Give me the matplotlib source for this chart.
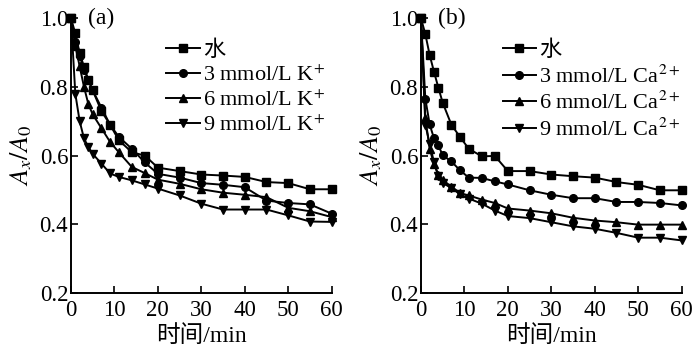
import matplotlib
matplotlib.use('Agg')
import matplotlib.pyplot as plt

plt.rcParams['font.family'] = ['Liberation Serif', 'Noto Sans CJK SC']
plt.rcParams['mathtext.fontset'] = 'stix'

# sampling times (min)
times = [0, 1, 2, 3, 4, 5, 7, 9, 11, 14, 17, 20, 25, 30, 35, 40, 45, 50, 55, 60]

# panel (a): K+
a_water = [1.0, 0.956, 0.898, 0.859, 0.82, 0.79, 0.73, 0.69, 0.645, 0.61, 0.60, 0.565,
           0.555, 0.545, 0.542, 0.538, 0.523, 0.52, 0.502, 0.502]
a_k3 = [1.0, 0.93, 0.89, 0.85, 0.82, 0.79, 0.74, 0.69, 0.655, 0.62, 0.58, 0.547,
        0.536, 0.52, 0.515, 0.508, 0.469, 0.462, 0.458, 0.431]
a_k6 = [1.0, 0.92, 0.86, 0.80, 0.75, 0.72, 0.68, 0.64, 0.61, 0.567, 0.549, 0.53,
        0.518, 0.502, 0.492, 0.486, 0.479, 0.448, 0.438, 0.421]
a_k9 = [1.0, 0.78, 0.70, 0.65, 0.625, 0.605, 0.577, 0.548, 0.538, 0.528, 0.516, 0.504,
        0.484, 0.46, 0.443, 0.443, 0.443, 0.426, 0.408, 0.407]

# panel (b): Ca2+
b_water = [1.0, 0.954, 0.893, 0.844, 0.798, 0.754, 0.690, 0.654, 0.620, 0.598, 0.599, 0.555,
           0.555, 0.545, 0.54, 0.536, 0.523, 0.515, 0.499, 0.499]
b_ca3 = [1.0, 0.766, 0.691, 0.650, 0.630, 0.601, 0.583, 0.557, 0.536, 0.535, 0.525, 0.516,
         0.499, 0.486, 0.476, 0.476, 0.465, 0.465, 0.462, 0.455]
b_ca6 = [1.0, 0.71, 0.62, 0.575, 0.545, 0.528, 0.51, 0.491, 0.484, 0.472, 0.462, 0.446,
         0.44, 0.432, 0.419, 0.411, 0.406, 0.399, 0.399, 0.399]
b_ca9 = [1.0, 0.69, 0.635, 0.58, 0.54, 0.52, 0.506, 0.487, 0.475, 0.46, 0.44, 0.424,
         0.418, 0.406, 0.394, 0.387, 0.375, 0.361, 0.361, 0.353]

a_labels = ['水', '3 mmol/L K$^{+}$', '6 mmol/L K$^{+}$', '9 mmol/L K$^{+}$']
b_labels = ['水', '3 mmol/L Ca$^{2+}$', '6 mmol/L Ca$^{2+}$', '9 mmol/L Ca$^{2+}$']
markers = ['s', 'o', '^', 'v']

yticks = [0.2, 0.4, 0.6, 0.8, 1.0]
xticks = [0, 10, 20, 30, 40, 50, 60]

fig = plt.figure(figsize=(7, 3.5), dpi=100)
ax_a = fig.add_axes([0.1014, 0.163, 0.3724, 0.7847])
ax_b = fig.add_axes([0.6014, 0.163, 0.3724, 0.7847])

panels = [
    (ax_a, [a_water, a_k3, a_k6, a_k9], a_labels, '(a)', 0.975),
    (ax_b, [b_water, b_ca3, b_ca6, b_ca9], b_labels, '(b)', 0.995),
]

for ax, series, labels, tag, lx in panels:
    for ys, m, lab in zip(series, markers, labels):
        ax.plot(times, ys, color='black', linewidth=1.4, marker=m, markersize=5.5,
                label=lab, clip_on=False)
    ax.set_xlim(0, 60)
    ax.set_ylim(0.2, 1.0)
    ax.set_xticks(xticks)
    ax.set_yticks(yticks)
    ax.set_yticklabels([f"{v:.1f}" for v in yticks])
    ax.tick_params(direction='in', length=5, width=1.2, labelsize=16.5)
    ax.tick_params(axis='x', pad=5)
    ax.tick_params(axis='y', pad=2)
    ax.spines['top'].set_visible(False)
    ax.spines['right'].set_visible(False)
    ax.spines['left'].set_linewidth(1.4)
    ax.spines['bottom'].set_linewidth(1.4)
    ax.set_xlabel('时间/min', fontsize=17, labelpad=3)
    ax.set_ylabel('$A_x/A_0$', fontsize=19, labelpad=4)
    ax.text(0.065, 1.0, tag, transform=ax.transAxes, fontsize=17, va='center', ha='left')
    ax.legend(loc='upper right', bbox_to_anchor=(lx, 0.92), frameon=False, fontsize=16,
              handlelength=1.5, handletextpad=0.15, labelspacing=0.2, borderaxespad=0,
              borderpad=0)

fig.savefig('out.png', dpi=100)
